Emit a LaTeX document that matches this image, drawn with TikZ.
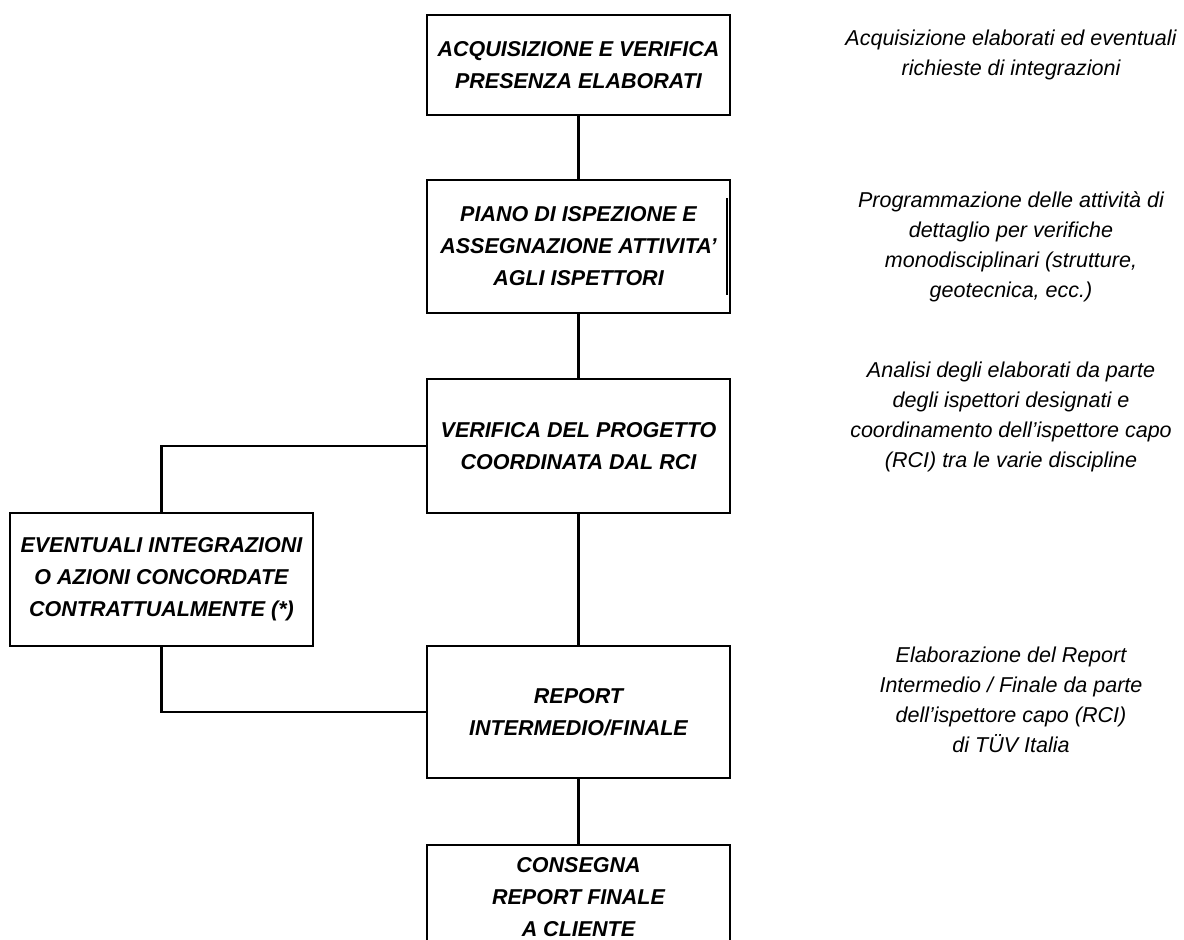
\documentclass[tikz,border=0pt]{standalone}
\usepackage{fontspec}
\setmainfont{Liberation Sans}
\usetikzlibrary{positioning}
\tikzset{
    phase/.style={
        rectangle,
        draw=black,
        line width=1.3pt,
        outer sep=0pt,
        minimum width=151.5pt,
        inner sep=2pt,
        fill=white,
        align=center,
        font=\bfseries\itshape\fontsize{10.75}{16}\selectfont
    },
    note/.style={
        align=center,
        inner sep=0pt,
        font=\itshape\fontsize{10.75}{15}\selectfont
    },
    link/.style={
        draw=black,
        line width=1.3pt
    }
}
\begin{document}
\begin{tikzpicture}
\useasboundingbox (0,0) rectangle (592pt,-470pt);

% Main flow
\node[phase, minimum height=50pt] (acq) at (289.25pt,-32.5pt) {ACQUISIZIONE E VERIFICA\\PRESENZA ELABORATI};
\node[phase, minimum height=66.5pt, below=32.5pt of acq] (piano) {PIANO DI ISPEZIONE E\\ASSEGNAZIONE ATTIVITA’\\AGLI ISPETTORI};
\node[phase, minimum height=67pt, below=33pt of piano] (verif) {VERIFICA DEL PROGETTO\\COORDINATA DAL RCI};
\node[phase, minimum height=66pt, below=66.5pt of verif] (report) {REPORT\\INTERMEDIO/FINALE};
\node[phase, minimum height=52pt, below=33.5pt of report] (consegna) {CONSEGNA\\REPORT FINALE\\A CLIENTE};

% Side branch
\node[phase, minimum height=66.5pt, below left=0pt and 57pt of verif] (integr) {EVENTUALI INTEGRAZIONI\\O AZIONI CONCORDATE\\CONTRATTUALMENTE (*)};

\draw[link] (acq) -- (piano);
\draw[link] (piano) -- (verif);
\draw[link] (verif) -- (report);
\draw[link] (report) -- (consegna);
\draw[link] (verif.west) -| (integr.north);
\draw[link] (integr.south) |- (report.west);

% stray mark in the second box
\draw[link] ([xshift=-1.6pt,yshift=24.25pt]piano.east) -- ([xshift=-1.6pt,yshift=-24.25pt]piano.east);

% Descriptions
\node[note] (nacq) at ([xshift=216.25pt,yshift=5pt]acq.center) {Acquisizione elaborati ed eventuali\\richieste di integrazioni};
\node[note] (npiano) at ([xshift=216.25pt]piano.center) {Programmazione delle attività di\\dettaglio per verifiche\\monodisciplinari (strutture,\\geotecnica, ecc.)};
\node[note] (nverif) at ([xshift=216.25pt,yshift=14.5pt]verif.center) {Analisi degli elaborati da parte\\degli ispettori designati e\\coordinamento dell’ispettore capo\\(RCI) tra le varie discipline};
\node[note] (nreport) at ([xshift=216.25pt,yshift=6pt]report.center) {Elaborazione del Report\\Intermedio / Finale da parte\\dell’ispettore capo (RCI)\\di TÜV Italia};

\end{tikzpicture}
\end{document}
